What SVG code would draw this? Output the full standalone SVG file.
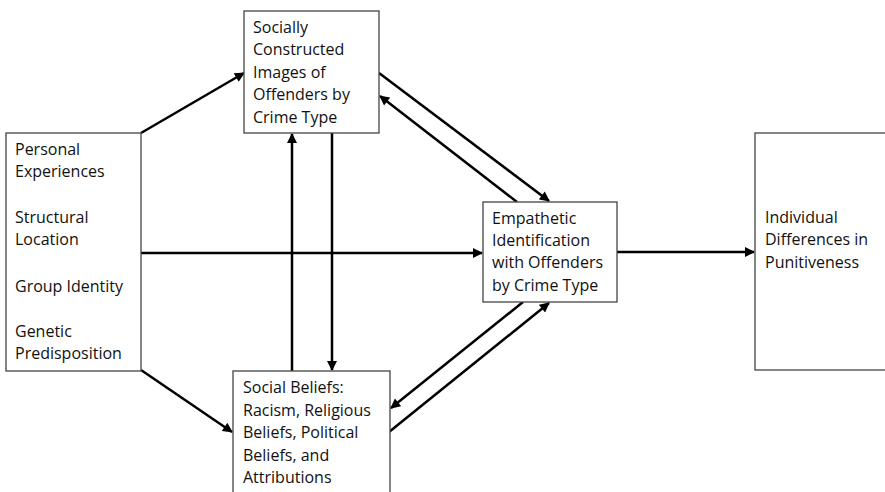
<svg xmlns="http://www.w3.org/2000/svg" width="885" height="492" viewBox="0 0 885 492">
<defs>
<marker id="ah" viewBox="0 0 10 10" refX="9" refY="5" markerWidth="4.4" markerHeight="4" orient="auto" markerUnits="strokeWidth">
<path d="M0,0 L10,5 L0,10 z" fill="#000"/>
</marker>
<style>
.box{fill:#fff;stroke:#444;stroke-width:1.3}
.t{font-family:"Open Sans","Liberation Sans",sans-serif;font-size:16px;fill:#111}
.c{stroke:#000;stroke-width:2.5;fill:none;marker-end:url(#ah)}
</style>
</defs>
<rect width="885" height="492" fill="#fff"/>
<g id="connectors">
<line class="c" x1="141" y1="133" x2="244" y2="73"/>
<line class="c" x1="141" y1="370" x2="232" y2="432"/>
<line class="c" x1="141" y1="253" x2="482" y2="253"/>
<line class="c" x1="617" y1="252" x2="754" y2="252"/>
<line class="c" x1="292" y1="371" x2="292" y2="134"/>
<line class="c" x1="332" y1="133" x2="332" y2="370"/>
<line class="c" x1="379" y1="73" x2="549" y2="201"/>
<line class="c" x1="517" y1="202" x2="380" y2="96"/>
<line class="c" x1="523" y1="302" x2="391" y2="408"/>
<line class="c" x1="389" y1="432" x2="549" y2="303"/>
</g>
<g id="left">
<rect class="box" x="6" y="133" width="135" height="238"/>
<text class="t" x="15" y="155">Personal</text>
<text class="t" x="15" y="177">Experiences</text>
<text class="t" x="15" y="223">Structural</text>
<text class="t" x="15" y="245">Location</text>
<text class="t" x="15" y="292">Group Identity</text>
<text class="t" x="15" y="337">Genetic</text>
<text class="t" x="15" y="359">Predisposition</text>
</g>
<g id="images">
<rect class="box" x="244" y="11" width="135" height="122"/>
<text class="t" x="253" y="33">Socially</text>
<text class="t" x="253" y="55">Constructed</text>
<text class="t" x="253" y="78">Images of</text>
<text class="t" x="253" y="100">Offenders by</text>
<text class="t" x="253" y="123">Crime Type</text>
</g>
<g id="beliefs">
<rect class="box" x="233" y="371" width="157" height="130"/>
<text class="t" x="243" y="393">Social Beliefs:</text>
<text class="t" x="243" y="416">Racism, Religious</text>
<text class="t" x="243" y="438">Beliefs, Political</text>
<text class="t" x="243" y="461">Beliefs, and</text>
<text class="t" x="243" y="483">Attributions</text>
</g>
<g id="empathy">
<rect class="box" x="483" y="202" width="134" height="100"/>
<text class="t" x="492" y="224">Empathetic</text>
<text class="t" x="492" y="246">Identification</text>
<text class="t" x="492" y="268">with Offenders</text>
<text class="t" x="492" y="291">by Crime Type</text>
</g>
<g id="punitiveness">
<rect class="box" x="755" y="133" width="140" height="237"/>
<text class="t" x="765" y="223">Individual</text>
<text class="t" x="765" y="245">Differences in</text>
<text class="t" x="765" y="268">Punitiveness</text>
</g>
</svg>
